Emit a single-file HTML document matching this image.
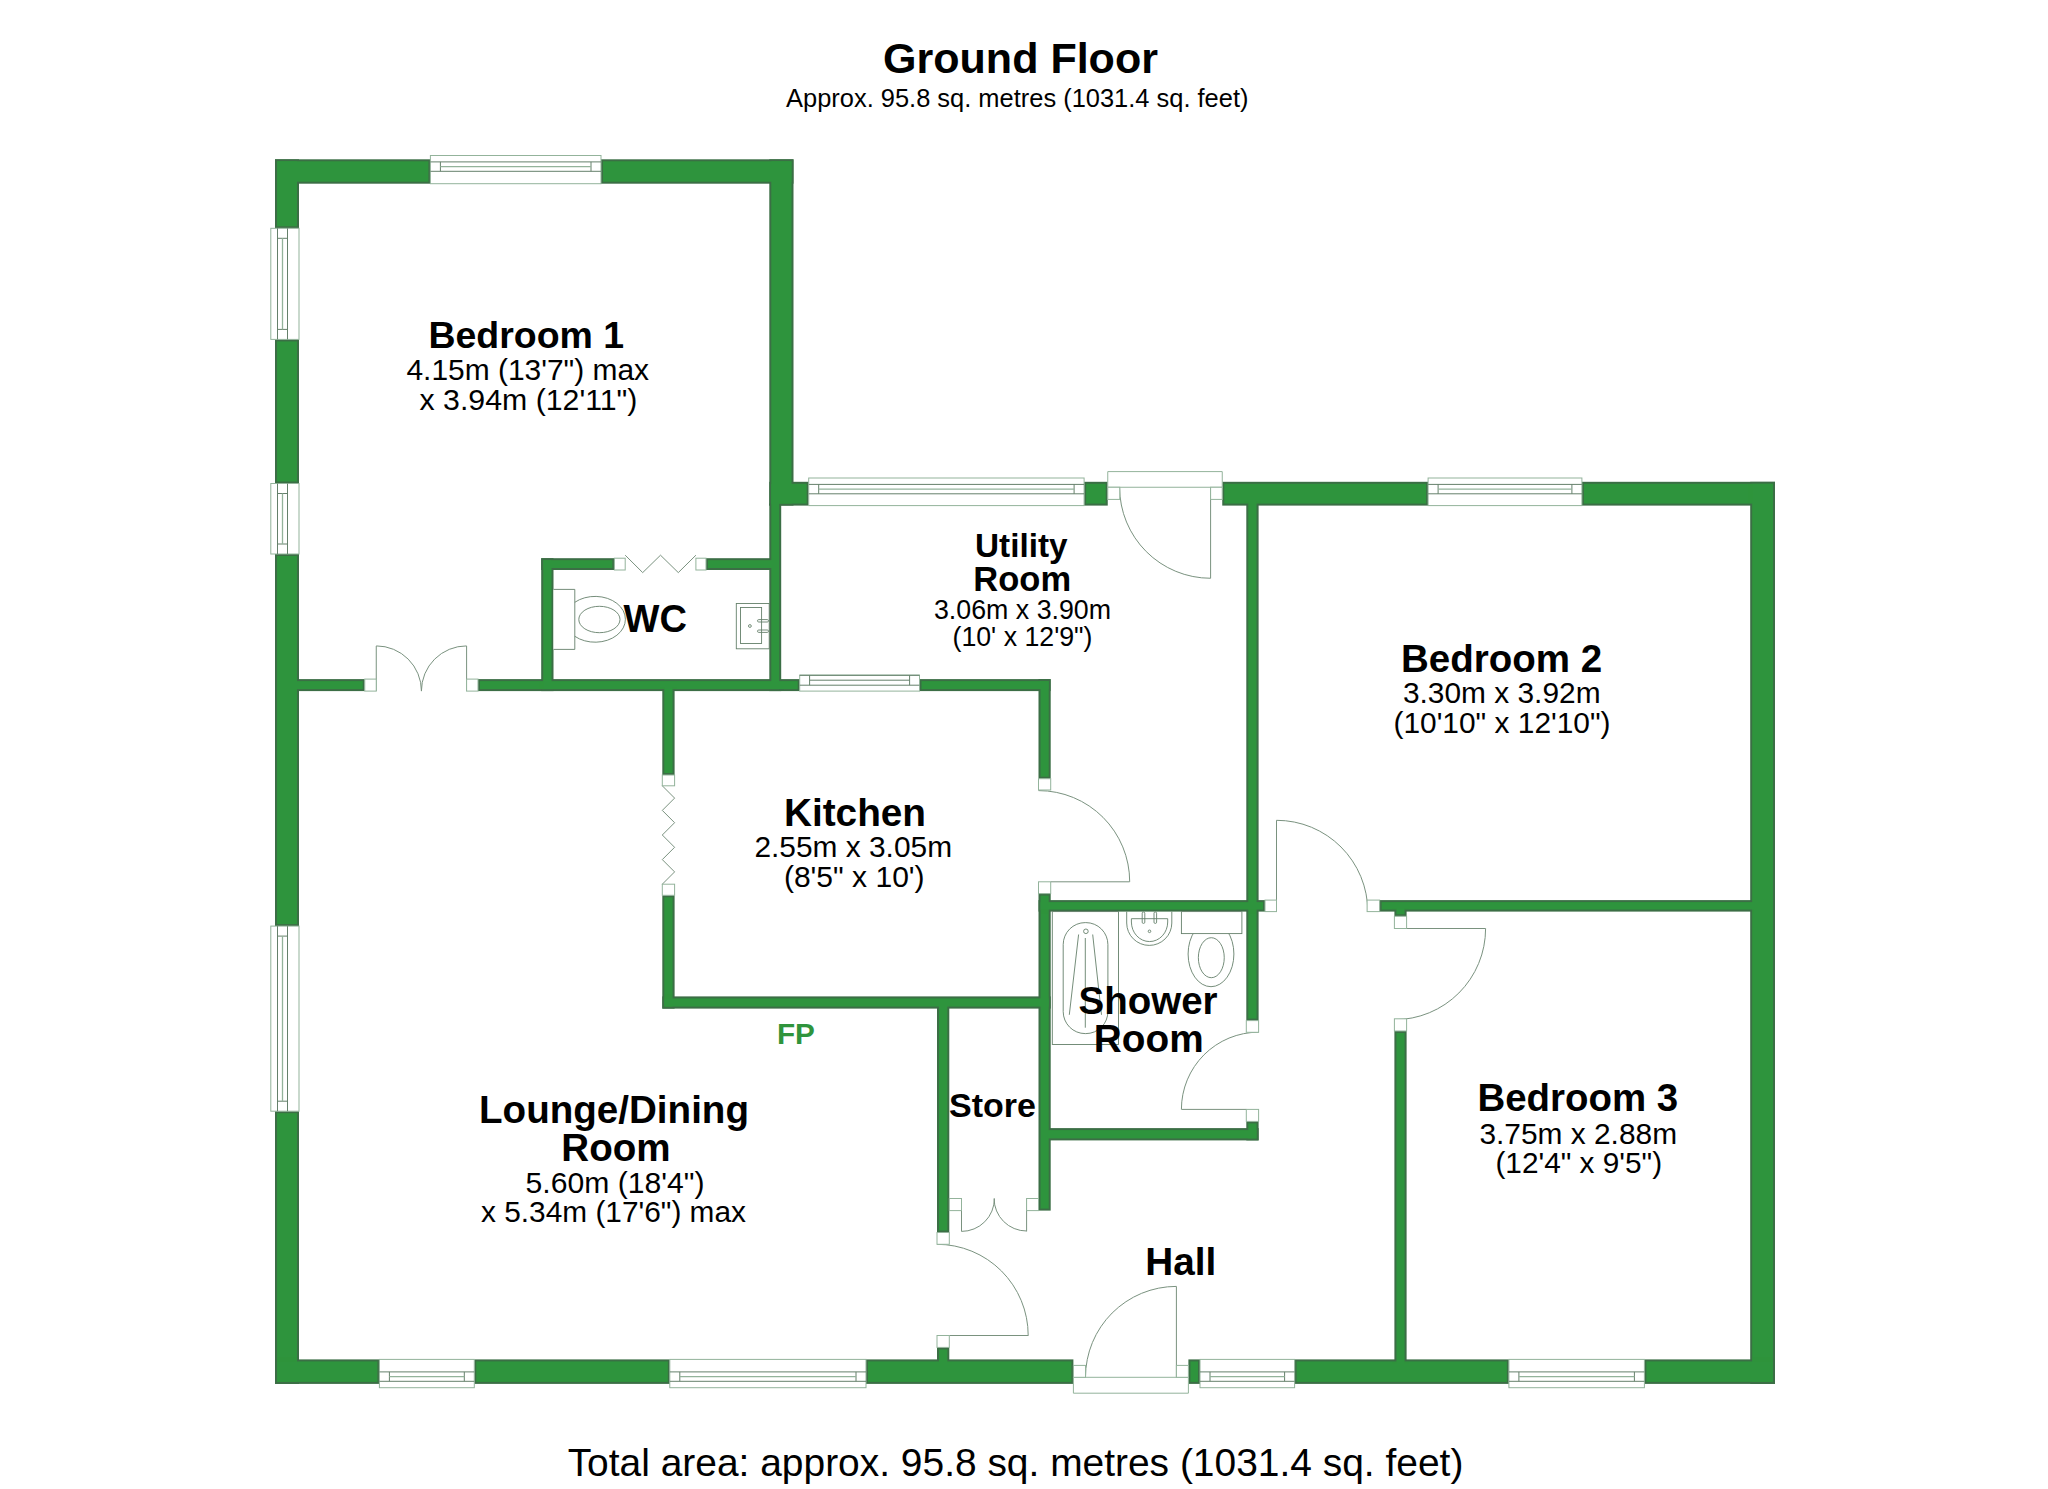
<!DOCTYPE html>
<html><head><meta charset="utf-8"><title>Ground Floor</title>
<style>html,body{margin:0;padding:0;background:#fff;}body{width:2048px;height:1489px;position:relative;overflow:hidden;font-family:"Liberation Sans",sans-serif;}</style>
</head><body>
<svg width="2048" height="1489" viewBox="0 0 2048 1489" style="position:absolute;left:0;top:0">
<rect x="0" y="0" width="2048" height="1489" fill="#fff"/>
<defs><filter id="er" x="0" y="0" width="2048" height="1489" filterUnits="userSpaceOnUse"><feMorphology operator="erode" radius="1.5"/></filter></defs>
<g fill="#3b6e45" stroke="none">
<rect x="275.00" y="159.30" width="24.00" height="69.00" />
<rect x="275.00" y="339.40" width="24.00" height="144.10" />
<rect x="275.00" y="554.00" width="24.00" height="372.10" />
<rect x="275.00" y="1111.20" width="24.00" height="272.70" />
<rect x="275.00" y="159.30" width="155.40" height="24.40" />
<rect x="601.00" y="159.30" width="192.50" height="24.40" />
<rect x="769.30" y="159.30" width="24.20" height="346.30" />
<rect x="769.30" y="481.80" width="39.40" height="23.80" />
<rect x="1084.10" y="481.80" width="23.65" height="23.80" />
<rect x="1222.25" y="481.80" width="205.85" height="23.80" />
<rect x="1581.90" y="481.80" width="193.10" height="23.80" />
<rect x="1750.20" y="481.80" width="24.80" height="902.10" />
<rect x="275.00" y="1359.40" width="104.40" height="24.50" />
<rect x="474.30" y="1359.40" width="195.50" height="24.50" />
<rect x="866.00" y="1359.40" width="207.40" height="24.50" />
<rect x="1188.40" y="1359.40" width="11.60" height="24.50" />
<rect x="1294.60" y="1359.40" width="214.30" height="24.50" />
<rect x="1644.40" y="1359.40" width="130.60" height="24.50" />
<rect x="297.50" y="679.10" width="67.25" height="12.00" />
<rect x="478.00" y="679.10" width="321.70" height="12.00" />
<rect x="919.50" y="679.10" width="131.10" height="12.00" />
<rect x="541.20" y="558.20" width="12.30" height="132.90" />
<rect x="541.20" y="558.20" width="73.20" height="11.80" />
<rect x="706.00" y="558.20" width="64.30" height="11.80" />
<rect x="769.30" y="503.60" width="11.90" height="187.50" />
<rect x="662.30" y="689.60" width="12.30" height="85.40" />
<rect x="662.30" y="895.30" width="12.30" height="113.30" />
<rect x="662.30" y="996.40" width="388.40" height="12.20" />
<rect x="1038.50" y="679.10" width="12.20" height="99.60" />
<rect x="1038.50" y="893.60" width="12.20" height="317.00" />
<rect x="937.00" y="1007.00" width="12.30" height="225.50" />
<rect x="937.00" y="1347.40" width="12.30" height="14.10" />
<rect x="1246.30" y="503.60" width="12.30" height="517.00" />
<rect x="1246.30" y="1121.40" width="12.30" height="19.00" />
<rect x="1038.50" y="900.10" width="226.50" height="11.50" />
<rect x="1379.60" y="900.10" width="372.40" height="11.50" />
<rect x="1049.00" y="1128.10" width="209.60" height="12.30" />
<rect x="1394.40" y="910.00" width="12.20" height="6.30" />
<rect x="1394.40" y="1031.00" width="12.20" height="330.50" />
</g>
<g fill="#2f943c" stroke="none" filter="url(#er)">
<rect x="275.00" y="159.30" width="24.00" height="69.00" />
<rect x="275.00" y="339.40" width="24.00" height="144.10" />
<rect x="275.00" y="554.00" width="24.00" height="372.10" />
<rect x="275.00" y="1111.20" width="24.00" height="272.70" />
<rect x="275.00" y="159.30" width="155.40" height="24.40" />
<rect x="601.00" y="159.30" width="192.50" height="24.40" />
<rect x="769.30" y="159.30" width="24.20" height="346.30" />
<rect x="769.30" y="481.80" width="39.40" height="23.80" />
<rect x="1084.10" y="481.80" width="23.65" height="23.80" />
<rect x="1222.25" y="481.80" width="205.85" height="23.80" />
<rect x="1581.90" y="481.80" width="193.10" height="23.80" />
<rect x="1750.20" y="481.80" width="24.80" height="902.10" />
<rect x="275.00" y="1359.40" width="104.40" height="24.50" />
<rect x="474.30" y="1359.40" width="195.50" height="24.50" />
<rect x="866.00" y="1359.40" width="207.40" height="24.50" />
<rect x="1188.40" y="1359.40" width="11.60" height="24.50" />
<rect x="1294.60" y="1359.40" width="214.30" height="24.50" />
<rect x="1644.40" y="1359.40" width="130.60" height="24.50" />
<rect x="297.50" y="679.10" width="67.25" height="12.00" />
<rect x="478.00" y="679.10" width="321.70" height="12.00" />
<rect x="919.50" y="679.10" width="131.10" height="12.00" />
<rect x="541.20" y="558.20" width="12.30" height="132.90" />
<rect x="541.20" y="558.20" width="73.20" height="11.80" />
<rect x="706.00" y="558.20" width="64.30" height="11.80" />
<rect x="769.30" y="503.60" width="11.90" height="187.50" />
<rect x="662.30" y="689.60" width="12.30" height="85.40" />
<rect x="662.30" y="895.30" width="12.30" height="113.30" />
<rect x="662.30" y="996.40" width="388.40" height="12.20" />
<rect x="1038.50" y="679.10" width="12.20" height="99.60" />
<rect x="1038.50" y="893.60" width="12.20" height="317.00" />
<rect x="937.00" y="1007.00" width="12.30" height="225.50" />
<rect x="937.00" y="1347.40" width="12.30" height="14.10" />
<rect x="1246.30" y="503.60" width="12.30" height="517.00" />
<rect x="1246.30" y="1121.40" width="12.30" height="19.00" />
<rect x="1038.50" y="900.10" width="226.50" height="11.50" />
<rect x="1379.60" y="900.10" width="372.40" height="11.50" />
<rect x="1049.00" y="1128.10" width="209.60" height="12.30" />
<rect x="1394.40" y="910.00" width="12.20" height="6.30" />
<rect x="1394.40" y="1031.00" width="12.20" height="330.50" />
</g>
<rect x="430.40" y="155.50" width="170.60" height="28.20" fill="#fff" stroke="#93b39b" stroke-width="1"/>
<path d="M430.40 161.90H601.00M430.40 171.30H601.00M440.40 161.90V171.30M591.00 161.90V171.30" fill="none" stroke="#65806b" stroke-width="1"/>
<path d="M440.40 166.60H591.00" fill="none" stroke="#93b39b" stroke-width="1.3"/>
<rect x="808.70" y="478.00" width="275.40" height="27.60" fill="#fff" stroke="#93b39b" stroke-width="1"/>
<path d="M808.70 484.40H1084.10M808.70 493.80H1084.10M818.70 484.40V493.80M1074.10 484.40V493.80" fill="none" stroke="#65806b" stroke-width="1"/>
<path d="M818.70 489.10H1074.10" fill="none" stroke="#93b39b" stroke-width="1.3"/>
<rect x="1428.10" y="478.00" width="153.80" height="27.60" fill="#fff" stroke="#93b39b" stroke-width="1"/>
<path d="M1428.10 484.40H1581.90M1428.10 493.80H1581.90M1438.10 484.40V493.80M1571.90 484.40V493.80" fill="none" stroke="#65806b" stroke-width="1"/>
<path d="M1438.10 489.10H1571.90" fill="none" stroke="#93b39b" stroke-width="1.3"/>
<rect x="379.40" y="1359.40" width="94.90" height="28.30" fill="#fff" stroke="#93b39b" stroke-width="1"/>
<path d="M379.40 1371.90H474.30M379.40 1381.30H474.30M389.40 1371.90V1381.30M464.30 1371.90V1381.30" fill="none" stroke="#65806b" stroke-width="1"/>
<path d="M389.40 1376.60H464.30" fill="none" stroke="#93b39b" stroke-width="1.3"/>
<rect x="669.80" y="1359.40" width="196.20" height="28.30" fill="#fff" stroke="#93b39b" stroke-width="1"/>
<path d="M669.80 1371.90H866.00M669.80 1381.30H866.00M679.80 1371.90V1381.30M856.00 1371.90V1381.30" fill="none" stroke="#65806b" stroke-width="1"/>
<path d="M679.80 1376.60H856.00" fill="none" stroke="#93b39b" stroke-width="1.3"/>
<rect x="1200.00" y="1359.40" width="94.60" height="28.30" fill="#fff" stroke="#93b39b" stroke-width="1"/>
<path d="M1200.00 1371.90H1294.60M1200.00 1381.30H1294.60M1210.00 1371.90V1381.30M1284.60 1371.90V1381.30" fill="none" stroke="#65806b" stroke-width="1"/>
<path d="M1210.00 1376.60H1284.60" fill="none" stroke="#93b39b" stroke-width="1.3"/>
<rect x="1508.90" y="1359.40" width="135.50" height="28.30" fill="#fff" stroke="#93b39b" stroke-width="1"/>
<path d="M1508.90 1371.90H1644.40M1508.90 1381.30H1644.40M1518.90 1371.90V1381.30M1634.40 1371.90V1381.30" fill="none" stroke="#65806b" stroke-width="1"/>
<path d="M1518.90 1376.60H1634.40" fill="none" stroke="#93b39b" stroke-width="1.3"/>
<rect x="270.80" y="228.30" width="28.20" height="111.10" fill="#fff" stroke="#93b39b" stroke-width="1"/>
<path d="M277.50 228.30V339.40M287.50 228.30V339.40M277.50 238.30H287.50M277.50 329.40H287.50" fill="none" stroke="#65806b" stroke-width="1"/>
<path d="M282.50 238.30V329.40" fill="none" stroke="#93b39b" stroke-width="1.3"/>
<rect x="270.80" y="483.50" width="28.20" height="70.50" fill="#fff" stroke="#93b39b" stroke-width="1"/>
<path d="M277.50 483.50V554.00M287.50 483.50V554.00M277.50 493.50H287.50M277.50 544.00H287.50" fill="none" stroke="#65806b" stroke-width="1"/>
<path d="M282.50 493.50V544.00" fill="none" stroke="#93b39b" stroke-width="1.3"/>
<rect x="270.80" y="926.10" width="28.20" height="185.10" fill="#fff" stroke="#93b39b" stroke-width="1"/>
<path d="M277.50 926.10V1111.20M287.50 926.10V1111.20M277.50 936.10H287.50M277.50 1101.20H287.50" fill="none" stroke="#65806b" stroke-width="1"/>
<path d="M282.50 936.10V1101.20" fill="none" stroke="#93b39b" stroke-width="1.3"/>
<rect x="799.7" y="675.1" width="119.80" height="16.00" fill="#fff" stroke="#93b39b" stroke-width="1"/>
<path d="M799.7 675.3H919.5M799.7 685.2H919.5M809.6 675.3V685.2M909.6 675.3V685.2" fill="none" stroke="#65806b" stroke-width="1"/>
<path d="M809.6 680.2H909.6" fill="none" stroke="#65806b" stroke-width="1"/>
<path d="M376.25 691.10L376.25 646.00M376.25 645.90A45.20 45.20 0 0 1 421.45 691.10M466.60 691.10L466.60 646.00M466.60 645.90A45.20 45.20 0 0 0 421.40 691.10M625.2 555.2L642.7 572.6L660.5 555.2L678.3 572.6L695.9 555.2M1210.60 487.25L1210.60 578.30M1119.60 487.25A91.00 91.00 0 0 0 1210.60 578.25M662.30 785.80L674.60 798.10L662.30 810.40L674.60 822.70L662.30 835.00L674.60 847.30L662.30 859.60L674.60 871.90L662.30 884.20M1050.70 881.80L1129.60 881.80M1038.50 790.60A91.20 91.20 0 0 1 1129.70 881.80M1276.50 911.60L1276.50 820.30M1276.50 820.30A91.30 91.30 0 0 1 1367.80 911.60M1406.60 928.50L1485.60 928.50M1485.60 928.50A91.20 91.20 0 0 1 1394.40 1019.70M1181.50 1109.40L1246.30 1109.40M1258.60 1032.20A77.20 77.20 0 0 0 1181.40 1109.40M961.50 1198.50L961.50 1231.40M961.50 1231.40A32.90 32.90 0 0 0 994.40 1198.50M1026.60 1198.50L1026.60 1231.40M1026.60 1231.00A32.50 32.50 0 0 1 994.10 1198.50M949.30 1335.50L1028.40 1335.50M937.00 1244.30A91.20 91.20 0 0 1 1028.20 1335.50M1176.40 1377.30L1176.40 1286.40M1176.40 1286.40A90.90 90.90 0 0 0 1085.50 1377.30" fill="none" stroke="#7a927f" stroke-width="1"/>
<path d="M1107.75 471.6H1222.25V487.25H1107.75ZM1073.4 1377.3H1188.4V1393.2H1073.4Z" fill="#fff" stroke="#93b39b" stroke-width="1"/>
<g fill="#fff" stroke="#93b39b" stroke-width="1">
<rect x="364.75" y="679.10" width="11.50" height="12.00" />
<rect x="466.60" y="679.10" width="11.40" height="12.00" />
<rect x="614.40" y="558.20" width="10.80" height="11.80" />
<rect x="695.90" y="558.20" width="10.10" height="11.80" />
<rect x="1107.75" y="487.25" width="12.00" height="12.15" />
<rect x="1210.60" y="487.25" width="11.65" height="12.15" />
<rect x="662.30" y="775.00" width="12.30" height="10.80" />
<rect x="662.30" y="884.20" width="12.30" height="11.10" />
<rect x="1038.50" y="778.70" width="12.20" height="11.30" />
<rect x="1038.50" y="881.80" width="12.20" height="11.80" />
<rect x="1265.00" y="900.10" width="11.50" height="11.50" />
<rect x="1367.10" y="900.10" width="12.50" height="11.50" />
<rect x="1394.40" y="916.30" width="12.20" height="12.20" />
<rect x="1394.40" y="1018.80" width="12.20" height="12.20" />
<rect x="1246.30" y="1020.60" width="12.30" height="11.70" />
<rect x="1246.30" y="1109.40" width="12.30" height="12.00" />
<rect x="949.30" y="1198.50" width="12.20" height="12.10" />
<rect x="1026.60" y="1198.50" width="11.90" height="12.10" />
<rect x="937.00" y="1232.50" width="12.30" height="11.80" />
<rect x="937.00" y="1335.50" width="12.30" height="11.90" />
<rect x="1073.40" y="1365.40" width="12.10" height="11.90" />
<rect x="1176.40" y="1365.40" width="12.00" height="11.90" />
</g>
<g fill="none" stroke="#65806b" stroke-width="0.9">
<path d="M553.5 589.4H574.8V649.4H553.5" fill="#fff"/>
<path d="M574.8 602.3A30.3 22.9 0 1 1 574.8 636.3" />
<ellipse cx="599.4" cy="619.5" rx="20.6" ry="13.2"/>
<rect x="736.3" y="603.5" width="32.9" height="45.3"/>
<rect x="740.5" y="607.5" width="21.1" height="36"/>
<circle cx="749.9" cy="626" r="1.4"/>
<rect x="757.5" y="619.6" width="11" height="2.4" rx="1.2"/>
<rect x="757.5" y="630" width="11" height="2.4" rx="1.2"/>
<rect x="1052.3" y="911.6" width="66.2" height="132.9"/>
<rect x="1063.2" y="922.6" width="44.7" height="111" rx="22" ry="22"/>
<circle cx="1085.9" cy="931.3" r="2.3"/>
<path d="M1078.6 934.5L1069.3 1014.8M1092.7 934.5L1101.5 1014.8M1085.3 938V1027.7"/>
<path d="M1126.7 911.6V923A22.55 22.4 0 0 0 1171.8 923V911.6"/>
<path d="M1131.4 918.7H1167.7V922A18.15 19.6 0 0 1 1131.4 922Z"/>
<rect x="1142.2" y="912" width="2.6" height="11.4" rx="1.2"/>
<rect x="1154" y="912" width="2.6" height="11.4" rx="1.2"/>
<circle cx="1149.5" cy="931.3" r="1.3"/>
<ellipse cx="1211" cy="954" rx="22.9" ry="32.7"/>
<ellipse cx="1211.3" cy="957.7" rx="12.95" ry="20"/>
<rect x="1181.4" y="911.6" width="60.5" height="22" fill="#fff"/>
</g>
<g font-family="'Liberation Sans', sans-serif" text-anchor="middle">
<text x="1020.5" y="72.5" font-size="43.04" font-weight="bold" fill="#000">Ground Floor</text>
<text x="1017.25" y="106.7" font-size="25.45" font-weight="normal" fill="#000">Approx. 95.8 sq. metres (1031.4 sq. feet)</text>
<text x="1015.5" y="1476.4" font-size="38.94" font-weight="normal" fill="#000">Total area: approx. 95.8 sq. metres (1031.4 sq. feet)</text>
<text x="526.25" y="347.5" font-size="37.46" font-weight="bold" fill="#000">Bedroom 1</text>
<text x="527.75" y="379.5" font-size="29.94" font-weight="normal" fill="#000">4.15m (13'7&quot;) max</text>
<text x="528.5" y="409.5" font-size="30.28" font-weight="normal" fill="#000">x 3.94m (12'11&quot;)</text>
<text x="655.25" y="631.9" font-size="38.06" font-weight="bold" fill="#000">WC</text>
<text x="1021.25" y="557.1" font-size="33.3" font-weight="bold" fill="#000">Utility</text>
<text x="1022.25" y="591.3" font-size="34.53" font-weight="bold" fill="#000">Room</text>
<text x="1022.5" y="618.6" font-size="26.79" font-weight="normal" fill="#000">3.06m x 3.90m</text>
<text x="1022.5" y="645.5" font-size="26.73" font-weight="normal" fill="#000">(10' x 12'9&quot;)</text>
<text x="1501.5" y="671.5" font-size="38.52" font-weight="bold" fill="#000">Bedroom 2</text>
<text x="1501.75" y="702.6" font-size="29.89" font-weight="normal" fill="#000">3.30m x 3.92m</text>
<text x="1502.0" y="733.1" font-size="29.9" font-weight="normal" fill="#000">(10'10&quot; x 12'10&quot;)</text>
<text x="855.0" y="825.5" font-size="38.75" font-weight="bold" fill="#000">Kitchen</text>
<text x="853.25" y="856.9" font-size="29.89" font-weight="normal" fill="#000">2.55m x 3.05m</text>
<text x="854.25" y="886.7" font-size="30.04" font-weight="normal" fill="#000">(8'5&quot; x 10')</text>
<text x="1148.0" y="1013.6" font-size="38.51" font-weight="bold" fill="#000">Shower</text>
<text x="1148.75" y="1052.3" font-size="38.77" font-weight="bold" fill="#000">Room</text>
<text x="992.5" y="1116.7" font-size="34.01" font-weight="bold" fill="#000">Store</text>
<text x="795.88" y="1044" font-size="29.7" font-weight="bold" fill="#2f943c">FP</text>
<text x="614.0" y="1123" font-size="38.59" font-weight="bold" fill="#000">Lounge/Dining</text>
<text x="616.0" y="1160.8" font-size="38.59" font-weight="bold" fill="#000">Room</text>
<text x="615.0" y="1192.6" font-size="30.15" font-weight="normal" fill="#000">5.60m (18'4&quot;)</text>
<text x="613.5" y="1222.4" font-size="29.84" font-weight="normal" fill="#000">x 5.34m (17'6&quot;) max</text>
<text x="1577.75" y="1111.3" font-size="38.43" font-weight="bold" fill="#000">Bedroom 3</text>
<text x="1578.25" y="1143.6" font-size="29.89" font-weight="normal" fill="#000">3.75m x 2.88m</text>
<text x="1578.75" y="1173.1" font-size="29.8" font-weight="normal" fill="#000">(12'4&quot; x 9'5&quot;)</text>
<text x="1180.75" y="1274.9" font-size="38.73" font-weight="bold" fill="#000">Hall</text>
</g>
</svg>
</body></html>
